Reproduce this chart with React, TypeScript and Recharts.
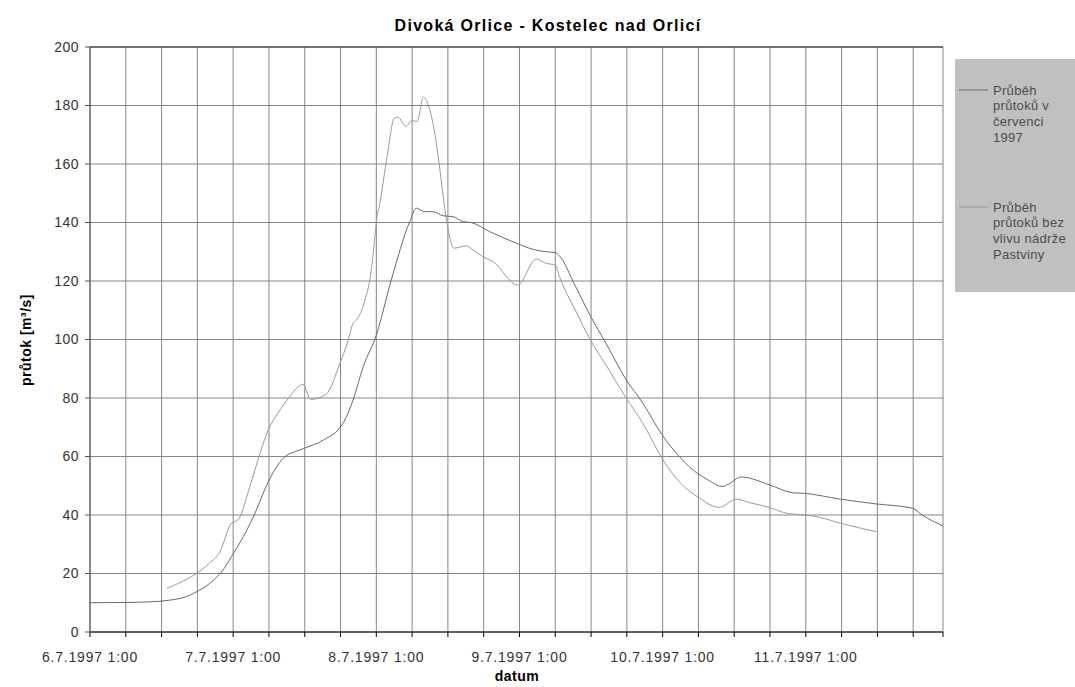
import { CartesianGrid, Line, LineChart, ReferenceLine, XAxis, YAxis } from "recharts";

// hours since 6.7.1997 1:00
const measuredHours = [
  0, 6, 10, 13.4, 16, 17.9, 20, 22.3, 23.7, 25.7, 27.4, 29.9, 32.4, 35.9, 39.1, 42.4, 44.1, 45.8, 48, 50.5,
  53.6, 54.7, 56.1, 57.5, 59.2, 60.9, 62.5, 63.9, 67, 71.5, 74.3, 76.5, 78, 79, 81, 83.8, 86.5, 89.9, 92.7,
  95.9, 98.8, 100.5, 101.8, 104, 106, 107, 109.2, 113.9, 117.8, 119.8, 125.8, 131.8, 137.9, 139.5, 143,
];
const measuredFlow = [
  10, 10.1, 10.3, 10.9, 12, 13.8, 16.5, 21.2, 25.7, 32.6, 39.4, 51.4, 59.4, 62.8, 65.6, 71.3, 79.3, 90.7,
  101.5, 120.3, 140.3, 144.9, 143.7, 143.7, 142.3, 142, 140.3, 140, 136.9, 132.9, 130.8, 130, 129.7, 127.8,
  119.8, 108.4, 98.7, 86.2, 78.2, 67.4, 60, 56.4, 54.3, 51.5, 49.7, 50.5, 53, 50.3, 47.6, 47.4, 45.4, 43.8,
  42.3, 40, 36.3,
];

const naturalHours = [
  12.9, 15, 17.9, 20, 21.8, 23.7, 24.8, 26.8, 28.5, 29.9, 31.5, 33.5, 34.9, 35.7, 37, 39.6, 41.9, 43.3, 44,
  44.9, 46.1, 46.9, 47.6, 48, 48.6, 49.8, 51, 51.6, 53, 53.9, 54.8, 55.9, 56.7, 57.8, 58.6, 59.6, 60.3, 61,
  63.1, 64.2, 65.9, 67.6, 71.7, 74.8, 76.5, 78, 78.7, 81.5, 83.9, 86.5, 89.9, 92.7, 95.9, 98.3, 99.6, 101.8,
  105.5, 108.4, 110.6, 113.9, 116.8, 119.8, 122.3, 125.8, 131.8,
];
const naturalFlow = [
  14.9, 16.8, 20.1, 23.5, 27.5, 37.2, 38.3, 49.7, 61.1, 69.1, 74.8, 80.5, 83.9, 84.7, 79.5, 81.3, 91.9, 99.8,
  105, 107.3, 113.5, 120.3, 131.7, 140.3, 146.7, 162.5, 175.6, 176, 172.8, 174.9, 174.5, 182.8, 180.2, 170.5,
  159, 143, 135, 131.2, 132, 130.6, 128.3, 126.6, 118.6, 127.5, 126, 125.5, 121.5, 109.5, 99.8, 91.3, 79.9,
  71.3, 59.4, 52.5, 49.7, 46.3, 42.6, 45.4, 44.2, 42.6, 40.6, 40, 39.2, 37.2, 34.3,
];

const xTicks = [0, 6, 12, 18, 24, 30, 36, 42, 48, 54, 60, 66, 72, 78, 84, 90, 96, 102, 108, 114, 120, 126, 132, 138, 143];
const yTicks = [0, 20, 40, 60, 80, 100, 120, 140, 160, 180, 200];

const legend1 = ["Průběh", "průtoků v", "červenci", "1997"];
const legend2 = ["Průběh", "průtoků bez", "vlivu nádrže", "Pastviny"];

const measured = measuredHours.map((h, i) => ({ h, q: measuredFlow[i] }));
const natural = naturalHours.map((h, i) => ({ h, q: naturalFlow[i] }));

const font = "'Liberation Sans', Arial, sans-serif";
const colMeasured = "#6a6a6a";
const colNatural = "#9a9a9a";

const fmtX = (h: number) => (h % 24 === 0 && h < 143 ? `${6 + h / 24}.7.1997 1:00` : "");

export default function App() {
  return (
    <div style={{ position: "absolute", left: 0, top: 0, width: 1075, height: 687, overflow: "hidden", background: "#fff", fontFamily: font }}>
      <LineChart width={1075} height={687} margin={{ top: 47, right: 132, bottom: 5, left: 30 }}>
        <CartesianGrid stroke="#858585" />
        <XAxis
          type="number"
          dataKey="h"
          domain={[0, 143]}
          ticks={xTicks}
          interval={0}
          tickFormatter={fmtX}
          height={50}
          stroke="#000"
          tickSize={5}
          tickMargin={15}
          tick={{ fill: "#333", fontSize: 14, letterSpacing: 0.8, fontFamily: font }}
          allowDataOverflow
        />
        <YAxis
          domain={[0, 200]}
          ticks={yTicks}
          interval={0}
          width={60}
          stroke="#555"
          tickSize={5}
          tickMargin={6}
          tick={{ fill: "#333", fontSize: 14, letterSpacing: 0.5, fontFamily: font }}
        />
        <ReferenceLine y={200} stroke="#222" />
        <Line data={natural} dataKey="q" type="monotone" stroke={colNatural} strokeWidth={1} dot={false} isAnimationActive={false} />
        <Line data={measured} dataKey="q" type="monotone" stroke={colMeasured} strokeWidth={1} dot={false} isAnimationActive={false} />
      </LineChart>
      <svg width={1075} height={687} style={{ position: "absolute", left: 0, top: 0, pointerEvents: "none" }} fontFamily={font}>
        <text x={548} y={31} textAnchor="middle" fontSize={16} fontWeight="bold" letterSpacing={1.3} fill="#000">
          Divoká Orlice - Kostelec nad Orlicí
        </text>
        <text x={517} y={681} textAnchor="middle" fontSize={14} fontWeight="bold" letterSpacing={0.5} fill="#000">
          datum
        </text>
        <text x={0} y={0} transform="translate(31 340) rotate(-90)" textAnchor="middle" fontSize={14} fontWeight="bold" letterSpacing={0.5} fill="#000">
          průtok [m³/s]
        </text>
        <rect x={955} y={59} width={125} height={233} fill="#c0c0c0" />
        <line x1={959} x2={988} y1={90} y2={90} stroke={colMeasured} />
        <line x1={959} x2={988} y1={207} y2={207} stroke={colNatural} />
        <text x={993} y={94.5} fontSize={13} letterSpacing={0.3} fill="#4d4d4d">
          {legend1.map((t, i) => (
            <tspan key={i} x={993} dy={i === 0 ? 0 : 15.7}>{t}</tspan>
          ))}
        </text>
        <text x={993} y={211.5} fontSize={13} letterSpacing={0.3} fill="#4d4d4d">
          {legend2.map((t, i) => (
            <tspan key={i} x={993} dy={i === 0 ? 0 : 15.7}>{t}</tspan>
          ))}
        </text>
      </svg>
    </div>
  );
}
